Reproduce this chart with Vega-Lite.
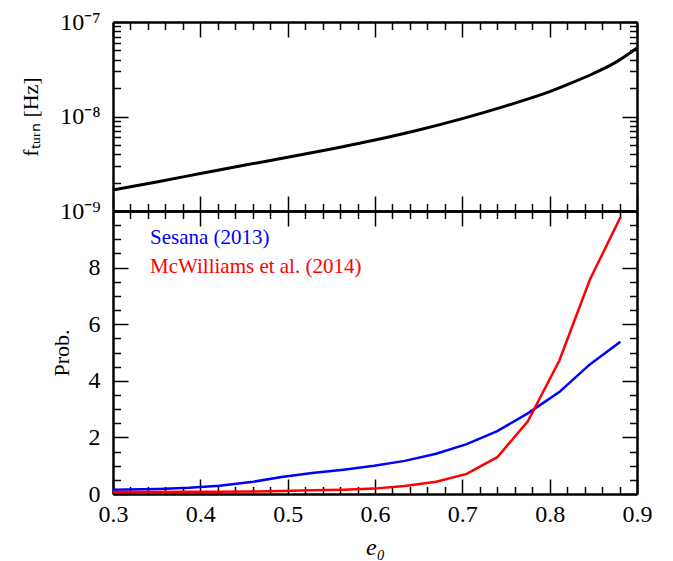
{
  "$schema": "https://vega.github.io/schema/vega-lite/v6.json",
  "autosize": {"type": "pad"},
  "padding": {"left": 19, "top": 10, "right": 0, "bottom": 0},
  "background": "white",
  "bounds": "flush",
  "config": {
    "view": {"stroke": null},
    "font": "Liberation Serif",
    "axis": {
      "grid": false,
      "domainColor": "black",
      "domainWidth": 2.5,
      "tickColor": "black",
      "tickWidth": 1.5,
      "labelFlush": false,
      "labelFont": "Liberation Serif",
      "labelFontSize": 24,
      "labelColor": "black",
      "titleFont": "Liberation Serif",
      "titleFontSize": 22,
      "titleFontWeight": "normal",
      "titleColor": "black"
    }
  },
  "datasets": {
    "top": [
      {"e": 0.30, "f": 1.667e-9},
      {"e": 0.35, "f": 2.032e-9},
      {"e": 0.40, "f": 2.489e-9},
      {"e": 0.45, "f": 3.048e-9},
      {"e": 0.50, "f": 3.698e-9},
      {"e": 0.55, "f": 4.539e-9},
      {"e": 0.60, "f": 5.649e-9},
      {"e": 0.65, "f": 7.211e-9},
      {"e": 0.70, "f": 9.506e-9},
      {"e": 0.75, "f": 1.297e-8},
      {"e": 0.80, "f": 1.832e-8},
      {"e": 0.825, "f": 2.265e-8},
      {"e": 0.85, "f": 2.851e-8},
      {"e": 0.875, "f": 3.715e-8},
      {"e": 0.90, "f": 5.309e-8}
    ],
    "bottom": [
      {"e": 0.300, "prob": 0.15, "series": "Sesana (2013)"},
      {"e": 0.317, "prob": 0.16, "series": "Sesana (2013)"},
      {"e": 0.352, "prob": 0.18, "series": "Sesana (2013)"},
      {"e": 0.387, "prob": 0.22, "series": "Sesana (2013)"},
      {"e": 0.422, "prob": 0.29, "series": "Sesana (2013)"},
      {"e": 0.458, "prob": 0.42, "series": "Sesana (2013)"},
      {"e": 0.493, "prob": 0.60, "series": "Sesana (2013)"},
      {"e": 0.528, "prob": 0.74, "series": "Sesana (2013)"},
      {"e": 0.564, "prob": 0.86, "series": "Sesana (2013)"},
      {"e": 0.599, "prob": 1.00, "series": "Sesana (2013)"},
      {"e": 0.634, "prob": 1.17, "series": "Sesana (2013)"},
      {"e": 0.670, "prob": 1.42, "series": "Sesana (2013)"},
      {"e": 0.705, "prob": 1.76, "series": "Sesana (2013)"},
      {"e": 0.740, "prob": 2.22, "series": "Sesana (2013)"},
      {"e": 0.775, "prob": 2.85, "series": "Sesana (2013)"},
      {"e": 0.811, "prob": 3.60, "series": "Sesana (2013)"},
      {"e": 0.846, "prob": 4.58, "series": "Sesana (2013)"},
      {"e": 0.881, "prob": 5.38, "series": "Sesana (2013)"},
      {"e": 0.300, "prob": 0.07, "series": "McWilliams et al. (2014)"},
      {"e": 0.317, "prob": 0.07, "series": "McWilliams et al. (2014)"},
      {"e": 0.352, "prob": 0.07, "series": "McWilliams et al. (2014)"},
      {"e": 0.387, "prob": 0.08, "series": "McWilliams et al. (2014)"},
      {"e": 0.422, "prob": 0.08, "series": "McWilliams et al. (2014)"},
      {"e": 0.458, "prob": 0.09, "series": "McWilliams et al. (2014)"},
      {"e": 0.493, "prob": 0.11, "series": "McWilliams et al. (2014)"},
      {"e": 0.528, "prob": 0.13, "series": "McWilliams et al. (2014)"},
      {"e": 0.564, "prob": 0.15, "series": "McWilliams et al. (2014)"},
      {"e": 0.599, "prob": 0.19, "series": "McWilliams et al. (2014)"},
      {"e": 0.634, "prob": 0.28, "series": "McWilliams et al. (2014)"},
      {"e": 0.670, "prob": 0.43, "series": "McWilliams et al. (2014)"},
      {"e": 0.705, "prob": 0.71, "series": "McWilliams et al. (2014)"},
      {"e": 0.740, "prob": 1.30, "series": "McWilliams et al. (2014)"},
      {"e": 0.775, "prob": 2.57, "series": "McWilliams et al. (2014)"},
      {"e": 0.811, "prob": 4.71, "series": "McWilliams et al. (2014)"},
      {"e": 0.846, "prob": 7.57, "series": "McWilliams et al. (2014)"},
      {"e": 0.881, "prob": 9.78, "series": "McWilliams et al. (2014)"}
    ]
  },
  "spacing": 0,
  "vconcat": [
    {
      "width": 524,
      "height": 189,
      "data": {"name": "top"},
      "layer": [
        {
          "mark": {"type": "line", "color": "black", "strokeWidth": 3, "interpolate": "monotone"},
          "encoding": {
            "x": {
              "field": "e", "type": "quantitative",
              "scale": {"domain": [0.3, 0.9], "nice": false, "zero": false},
              "axis": {
                "orient": "bottom", "title": null, "labels": false,
                "values": [0.3,0.32,0.34,0.36,0.38,0.4,0.42,0.44,0.46,0.48,0.5,0.52,0.54,0.56,0.58,0.6,0.62,0.64,0.66,0.68,0.7,0.72,0.74,0.76,0.78,0.8,0.82,0.84,0.86,0.88,0.9],
                "tickSize": {"condition": {"test": "abs(datum.value*10-round(datum.value*10))<0.001", "value": -15}, "value": -7.5}
              }
            },
            "y": {
              "field": "f", "type": "quantitative",
              "scale": {"type": "log", "domain": [1e-9, 1e-7], "nice": false},
              "axis": {
                "orient": "left", "title": "fₜᵤᵣₙ [Hz]", "titlePadding": 17,
                "values": [1e-9,2e-9,3e-9,4e-9,5e-9,6e-9,7e-9,8e-9,9e-9,1e-8,2e-8,3e-8,4e-8,5e-8,6e-8,7e-8,8e-8,9e-8,1e-7],
                "labelExpr": "abs(log(datum.value)/LN10-round(log(datum.value)/LN10))<0.001 ? (datum.value > 5e-8 ? '10⁻⁷' : datum.value > 5e-9 ? '10⁻⁸' : '10⁻⁹') : ''",
                "labelPadding": 28, "labelOverlap": false,
                "tickSize": {"condition": {"test": "abs(log(datum.value)/LN10-round(log(datum.value)/LN10))<0.001", "value": -15}, "value": -7.5}
              }
            }
          }
        },
        {
          "mark": {"type": "line", "opacity": 0},
          "encoding": {
            "x": {
              "field": "e", "type": "quantitative",
              "scale": {"domain": [0.3, 0.9], "nice": false, "zero": false},
              "axis": {
                "orient": "top", "title": null, "labels": false,
                "values": [0.3,0.32,0.34,0.36,0.38,0.4,0.42,0.44,0.46,0.48,0.5,0.52,0.54,0.56,0.58,0.6,0.62,0.64,0.66,0.68,0.7,0.72,0.74,0.76,0.78,0.8,0.82,0.84,0.86,0.88,0.9],
                "tickSize": {"condition": {"test": "abs(datum.value*10-round(datum.value*10))<0.001", "value": -15}, "value": -7.5}
              }
            },
            "y": {
              "field": "f", "type": "quantitative",
              "scale": {"type": "log", "domain": [1e-9, 1e-7], "nice": false},
              "axis": {
                "orient": "right", "title": null, "labels": false,
                "values": [1e-9,2e-9,3e-9,4e-9,5e-9,6e-9,7e-9,8e-9,9e-9,1e-8,2e-8,3e-8,4e-8,5e-8,6e-8,7e-8,8e-8,9e-8,1e-7],
                "tickSize": {"condition": {"test": "abs(log(datum.value)/LN10-round(log(datum.value)/LN10))<0.001", "value": -15}, "value": -7.5}
              }
            }
          }
        }
      ],
      "resolve": {"axis": {"x": "independent", "y": "independent"}}
    },
    {
      "width": 524,
      "height": 283,
      "data": {"name": "bottom"},
      "layer": [
        {
          "mark": {"type": "line", "strokeWidth": 2.5},
          "encoding": {
            "x": {
              "field": "e", "type": "quantitative",
              "scale": {"domain": [0.3, 0.9], "nice": false, "zero": false},
              "axis": {
                "orient": "bottom", "title": "e₀", "titleFontStyle": "italic", "titleFontSize": 24, "titlePadding": 2,
                "values": [0.3,0.32,0.34,0.36,0.38,0.4,0.42,0.44,0.46,0.48,0.5,0.52,0.54,0.56,0.58,0.6,0.62,0.64,0.66,0.68,0.7,0.72,0.74,0.76,0.78,0.8,0.82,0.84,0.86,0.88,0.9],
                "labelExpr": "abs(datum.value*10-round(datum.value*10))<0.001 ? format(datum.value, '.1f') : ''",
                "labelPadding": 23, "labelOverlap": false,
                "tickSize": {"condition": {"test": "abs(datum.value*10-round(datum.value*10))<0.001", "value": -15}, "value": -7.5}
              }
            },
            "y": {
              "field": "prob", "type": "quantitative",
              "scale": {"domain": [0, 10], "nice": false},
              "axis": {
                "orient": "left", "title": "Prob.", "titlePadding": 15,
                "values": [0,0.5,1,1.5,2,2.5,3,3.5,4,4.5,5,5.5,6,6.5,7,7.5,8,8.5,9,9.5],
                "labelExpr": "datum.value % 2 == 0 ? format(datum.value, 'd') : ''",
                "labelPadding": 28, "labelOverlap": false,
                "tickSize": {"condition": {"test": "datum.value % 2 == 0", "value": -15}, "value": -7.5}
              }
            },
            "color": {
              "field": "series", "type": "nominal",
              "scale": {"domain": ["Sesana (2013)", "McWilliams et al. (2014)"], "range": ["#0000ff", "#ff0000"]},
              "legend": {
                "orient": "none", "legendX": 16, "legendY": 205,
                "title": null, "symbolSize": 0, "symbolOpacity": 0, "symbolStrokeWidth": 0,
                "labelFont": "Liberation Serif", "labelFontSize": 21, "labelOffset": 0, "rowPadding": 7, "labelLimit": 400,
                "encode": {"labels": {"update": {"fill": {"scale": "color", "field": "value"}}}}
              }
            }
          }
        },
        {
          "mark": {"type": "line", "opacity": 0},
          "encoding": {
            "x": {
              "field": "e", "type": "quantitative",
              "scale": {"domain": [0.3, 0.9], "nice": false, "zero": false},
              "axis": {
                "orient": "top", "title": null, "labels": false,
                "values": [0.3,0.32,0.34,0.36,0.38,0.4,0.42,0.44,0.46,0.48,0.5,0.52,0.54,0.56,0.58,0.6,0.62,0.64,0.66,0.68,0.7,0.72,0.74,0.76,0.78,0.8,0.82,0.84,0.86,0.88,0.9],
                "tickSize": {"condition": {"test": "abs(datum.value*10-round(datum.value*10))<0.001", "value": -15}, "value": -7.5}
              }
            },
            "y": {
              "field": "prob", "type": "quantitative",
              "scale": {"domain": [0, 10], "nice": false},
              "axis": {
                "orient": "right", "title": null, "labels": false,
                "values": [0,0.5,1,1.5,2,2.5,3,3.5,4,4.5,5,5.5,6,6.5,7,7.5,8,8.5,9,9.5,10],
                "tickSize": {"condition": {"test": "datum.value % 2 == 0", "value": -15}, "value": -7.5}
              }
            },
            "detail": {"field": "series", "type": "nominal"}
          }
        }
      ],
      "resolve": {"axis": {"x": "independent", "y": "independent"}}
    }
  ]
}
